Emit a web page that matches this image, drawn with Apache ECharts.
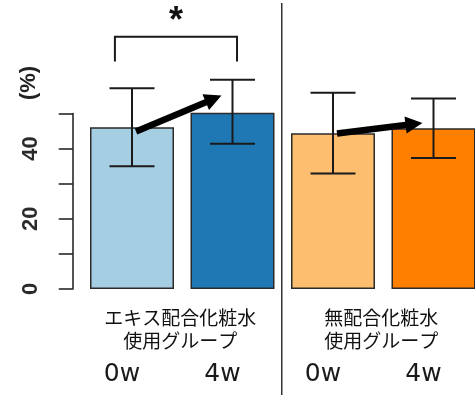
<!DOCTYPE html>
<html>
<head>
<meta charset="utf-8">
<script src="https://cdn.jsdelivr.net/npm/echarts@6/dist/echarts.min.js"></script>
<style>
  html, body { margin: 0; padding: 0; background: #fff; }
  #chart { width: 475px; height: 398px; }
</style>
</head>
<body>
<div id="chart"></div>
<script>
// Four groups: extract lotion (0w, 4w) and plain lotion (0w, 4w)
const categories = ['extract-0w', 'extract-4w', 'plain-0w', 'plain-4w'];
const tickLabels = ['0w', '4w', '0w', '4w'];
const groupLabels = ['エキス配合化粧水\n使用グループ', '無配合化粧水\n使用グループ'];
const means = [46.1, 50.5, 44.4, 45.8];
const errors = [11.1, 9.1, 11.5, 8.5];
const barColors = ['#a6cee3', '#1f78b4', '#fdbf6f', '#ff7f00'];
const yLabelValues = [0, 20, 40];

// Trend arrows: [fromIndex, fromValue, toIndex, toValue]
const arrows = [
  [0, 44.9, 1, 55.1],
  [2, 44.3, 3, 47.3]
];
// Significance bracket: [leftIndex, rightIndex, legBottom, top, label]
const brackets = [
  [0, 1, 64.8, 71.9, '*']
];
// Divider between the two groups: [after this index, baseline]
const dividers = [[1, 0]];

const INK = '#1a1a1a';

const chart = echarts.init(document.getElementById('chart'), null, { renderer: 'canvas' });

function bandWidth(api) {
  return api.size([1, 0])[0];
}

const option = {
  animation: false,
  backgroundColor: '#ffffff',
  grid: {
    left: 81.75, right: -8.75, top: 113.5, bottom: 109,
    containLabel: false,
    outerBoundsMode: 'none'
  },
  xAxis: [
    {
      type: 'category',
      data: categories,
      axisLine: { show: false },
      axisTick: { show: false },
      axisLabel: {
        interval: 0,
        hideOverlap: false,
        formatter: (v, i) => tickLabels[i],
        fontFamily: 'DejaVu Sans',
        fontSize: 25,
        color: '#1a1a1a',
        margin: 73,
        padding: [0, 20, 0, 0]
      }
    },
    {
      type: 'category',
      position: 'bottom',
      data: groupLabels,
      axisLine: { show: false },
      axisTick: { show: false },
      axisLabel: {
        interval: 0,
        hideOverlap: false,
        fontFamily: 'Noto Sans CJK JP',
        fontSize: 19,
        lineHeight: 23,
        color: '#111',
        margin: 17,
        padding: [0, 4, 0, 0]
      }
    }
  ],
  yAxis: {
    type: 'value',
    min: 0,
    max: 50,
    interval: 10,
    offset: 9,
    axisLine: { show: true, lineStyle: { color: INK, width: 1.5 } },
    axisTick: { show: true, inside: false, length: 14, lineStyle: { color: INK, width: 1.5 } },
    splitLine: { show: false },
    axisLabel: {
      rotate: 90,
      margin: 31,
      fontFamily: 'Liberation Sans',
      fontWeight: 'bold',
      fontSize: 22,
      color: '#2a2a2a',
      formatter: v => (yLabelValues.indexOf(v) >= 0 ? String(v) : '')
    }
  },
  graphic: [
    {
      type: 'text',
      x: 29,
      y: 83,
      rotation: Math.PI / 2,
      style: {
        text: '(%)',
        fontFamily: 'Liberation Sans',
        fontWeight: 'bold',
        fontSize: 22,
        fill: '#222',
        textAlign: 'center',
        textVerticalAlign: 'middle'
      }
    }
  ],
  series: [
    {
      type: 'bar',
      barWidth: 84,
      data: means.map((v, i) => ({
        value: v,
        itemStyle: { color: barColors[i], borderColor: '#2a2a2a', borderWidth: 1.5 }
      }))
    },
    {
      // error bars (mean ± error)
      type: 'custom',
      clip: false,
      z: 5,
      data: means.map((m, i) => [i, m - errors[i], m + errors[i]]),
      renderItem: (params, api) => {
        const lo = api.coord([api.value(0), api.value(1)]);
        const hi = api.coord([api.value(0), api.value(2)]);
        const half = 22.5;
        const style = { stroke: INK, lineWidth: 2, fill: null };
        return {
          type: 'group',
          children: [
            { type: 'line', shape: { x1: lo[0], y1: lo[1], x2: hi[0], y2: hi[1] }, style },
            { type: 'line', shape: { x1: lo[0] - half, y1: lo[1], x2: lo[0] + half, y2: lo[1] }, style },
            { type: 'line', shape: { x1: hi[0] - half, y1: hi[1], x2: hi[0] + half, y2: hi[1] }, style }
          ]
        };
      }
    },
    {
      // trend arrows from 0w to 4w
      type: 'custom',
      clip: false,
      z: 6,
      data: arrows,
      renderItem: (params, api) => {
        const bw = bandWidth(api);
        const a = api.coord([api.value(0), api.value(1)]);
        const b = api.coord([api.value(2), api.value(3)]);
        const x1 = a[0] + bw * 0.04, y1 = a[1];
        const x2 = b[0] - bw * 0.11, y2 = b[1];
        const ang = Math.atan2(y2 - y1, x2 - x1);
        const headLen = 17, headHalf = 8.5;
        const bx = x2 - headLen * Math.cos(ang), by = y2 - headLen * Math.sin(ang);
        const nx = -Math.sin(ang), ny = Math.cos(ang);
        return {
          type: 'group',
          children: [
            {
              type: 'line',
              shape: { x1: x1, y1: y1, x2: bx + 2 * Math.cos(ang), y2: by + 2 * Math.sin(ang) },
              style: { stroke: '#000', lineWidth: 6.5 }
            },
            {
              type: 'polygon',
              shape: { points: [[x2, y2], [bx + nx * headHalf, by + ny * headHalf], [bx - nx * headHalf, by - ny * headHalf]] },
              style: { fill: '#000' }
            }
          ]
        };
      }
    },
    {
      // significance bracket with star
      type: 'custom',
      clip: false,
      z: 6,
      data: brackets,
      renderItem: (params, api) => {
        const bw = bandWidth(api);
        const l = api.coord([api.value(0), api.value(2)]);
        const r = api.coord([api.value(1), api.value(2)]);
        const t = api.coord([api.value(0), api.value(3)]);
        const xl = l[0] - bw * 0.17, xr = r[0] + bw * 0.045;
        const style = { stroke: INK, lineWidth: 2, fill: null };
        return {
          type: 'group',
          children: [
            { type: 'polyline', shape: { points: [[xl, l[1]], [xl, t[1]], [xr, t[1]], [xr, r[1]]] }, style },
            {
              type: 'text',
              x: (xl + xr) / 2,
              y: t[1] + 3,
              style: {
                text: brackets[params.dataIndex][4],
                fontFamily: 'Liberation Sans',
                fontWeight: 'bold',
                fontSize: 36,
                fill: '#111',
                textAlign: 'center',
                textVerticalAlign: 'bottom'
              }
            }
          ]
        };
      }
    },
    {
      // vertical divider between the two groups
      type: 'custom',
      clip: false,
      z: 4,
      data: dividers,
      renderItem: (params, api) => {
        const i = api.value(0);
        const a = api.coord([i, 0]);
        const b = api.coord([i + 1, 0]);
        const x = (a[0] + b[0]) / 2 - 1;
        return {
          type: 'line',
          shape: { x1: x, y1: 3, x2: x, y2: api.getHeight() - 3 },
          style: { stroke: '#333', lineWidth: 1.5 }
        };
      }
    }
  ]
};

chart.setOption(option);
</script>
</body>
</html>
